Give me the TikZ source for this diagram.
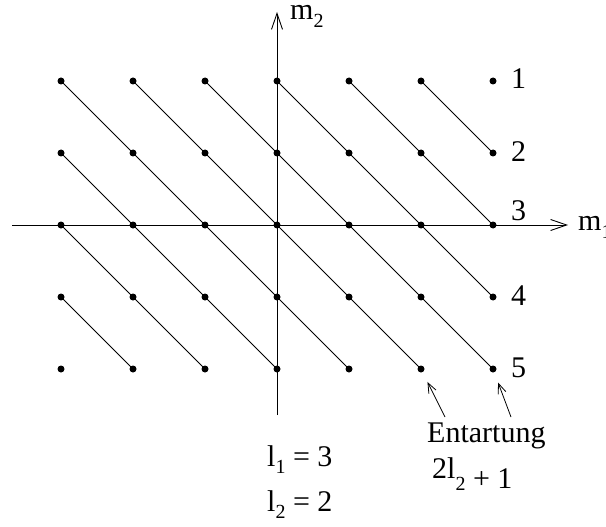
\documentclass[tikz,border=0pt]{standalone}
\usepackage{fontspec}
\setmainfont{Liberation Serif}
\usetikzlibrary{arrows.meta}
\newcommand{\lowsub}[2][7pt]{\raisebox{-#1}{\fontsize{20}{20}\selectfont #2}}
\begin{document}
\begin{tikzpicture}[x=1pt,y=-1pt,
  dot/.style={circle,fill,inner sep=0pt,minimum size=7pt,outer sep=0pt},
  link/.style={line width=0.8pt},
  axis/.style={line width=0.9pt,-{Straight Barb[length=16pt,width=11pt]}},
  hint/.style={line width=0.8pt,-{Straight Barb[length=10pt,width=8pt]},shorten >=11pt},
  lab/.style={inner sep=0pt,anchor=base west,font=\fontsize{30}{36}\selectfont}]
\useasboundingbox (0,0) rectangle (606,527);
\coordinate (xs) at (12,225);
\coordinate (xe) at (568,225);
\coordinate (ys) at (277,415);
\coordinate (ye) at (277,12);
\draw[axis] (xs) -- (xe);
\draw[axis] (ys) -- (ye);
\foreach \a in {0,...,6}{
  \foreach \b in {0,...,4}{
    \node[dot] (p\a\b) at ({61+72*\a},{369-72*\b}) {};
  }
}
\foreach \s in {1,...,9}{
  \pgfmathtruncatemacro{\amin}{max(0,\s-4)}
  \pgfmathtruncatemacro{\amax}{min(6,\s)}
  \pgfmathtruncatemacro{\bmin}{\s-\amin}
  \pgfmathtruncatemacro{\bmax}{\s-\amax}
  \draw[link] (p\amin\bmin.center) -- (p\amax\bmax.center);
}
\node[lab] (n1) at (511,89) {1};
\node[lab] (n2) at (511,161) {2};
\node[lab] (n3) at (511,220) {3};
\node[lab] (n4) at (511,305) {4};
\node[lab] (n5) at (511,377) {5};
\node[lab] (m1) at (578,230) {m\lowsub[8pt]{1}};
\node[lab] (m2) at (290,20) {m\lowsub[8pt]{2}};
\node[lab] (l1) at (267,466) {l\lowsub{1} = 3};
\node[lab] (l2) at (267,511) {l\lowsub{2} = 2};
\node[lab] (ent) at (427,442) {Entartung};
\node[lab] (deg) at (432,478) {2l\lowsub[12pt]{2}\raisebox{-10pt}{\ + 1}};
\coordinate (h1) at (445,417);
\coordinate (h2) at (511,417);
\draw[hint] (h1) -- (p50);
\draw[hint] (h2) -- (p60);
\end{tikzpicture}
\end{document}
